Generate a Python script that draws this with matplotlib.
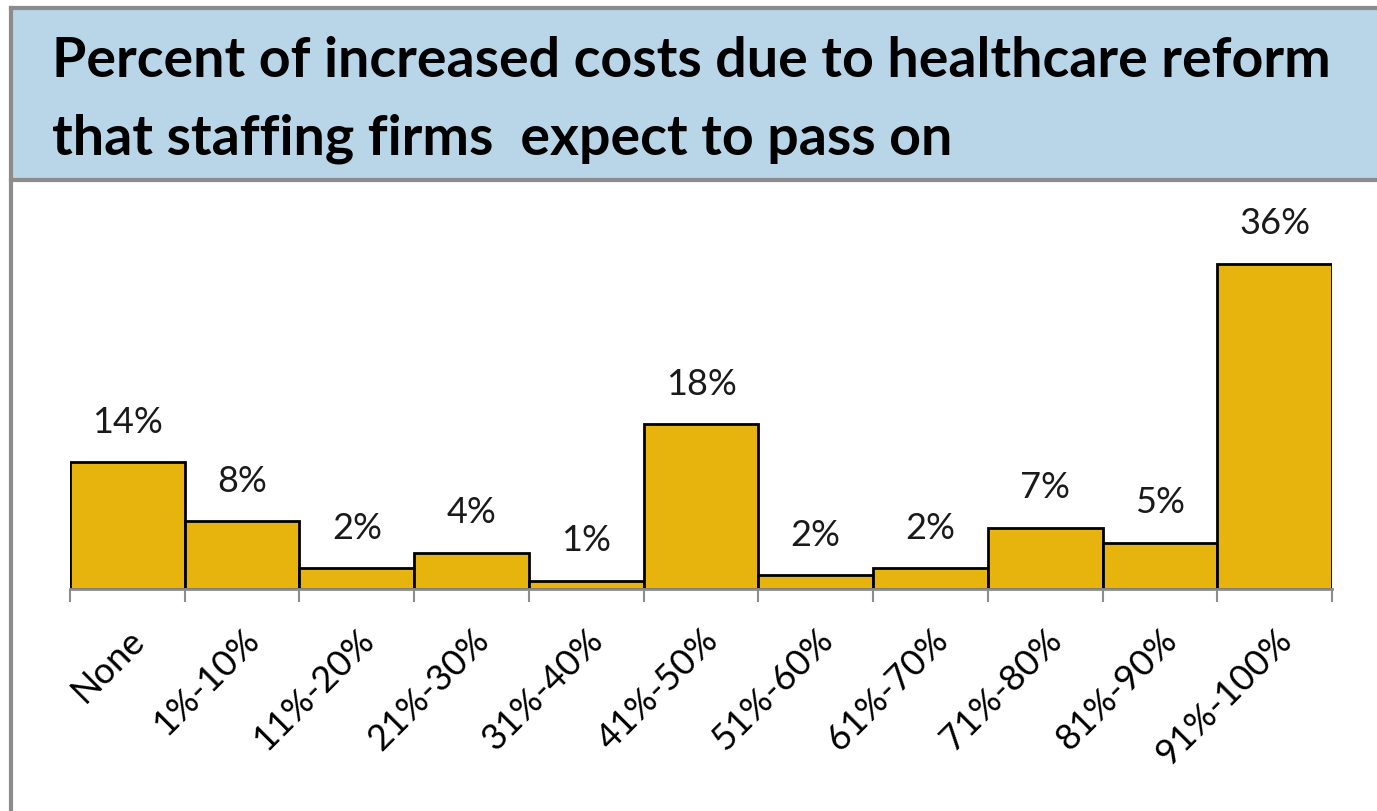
import matplotlib.pyplot as plt
from matplotlib.patches import Rectangle
from matplotlib.lines import Line2D
import numpy as np

categories = ['None', '1%-10%', '11%-20%', '21%-30%', '31%-40%', '41%-50%',
              '51%-60%', '61%-70%', '71%-80%', '81%-90%', '91%-100%']
values = [14.0, 7.5, 2.3, 4.0, 0.9, 18.2, 1.5, 2.3, 6.8, 5.1, 36.0]
value_labels = ['14%', '8%', '2%', '4%', '1%', '18%', '2%', '2%', '7%', '5%', '36%']
title_lines = ['Percent of increased costs due to healthcare reform',
               'that staffing firms  expect to pass on']

plt.rcParams['font.family'] = ['Lato', 'DejaVu Sans']

W, H = 1377, 812
fig = plt.figure(figsize=(W / 100, H / 100), dpi=100)

# title band and frame
fig.patches.append(Rectangle((12 / W, 1 - 181 / H), 1, (181 - 9) / H,
                             transform=fig.transFigure, facecolor='#b9d5e8',
                             edgecolor='none', zorder=0))
gray = '#8c8c8c'
fig.lines.append(Line2D([11 / W, 11 / W], [0, 1 - 9 / H], transform=fig.transFigure,
                        color=gray, lw=3))
fig.lines.append(Line2D([11 / W, 1], [1 - 9 / H, 1 - 9 / H], transform=fig.transFigure,
                        color=gray, lw=3))
fig.lines.append(Line2D([11 / W, 1], [1 - 181 / H, 1 - 181 / H], transform=fig.transFigure,
                        color=gray, lw=3))

fig.text(52 / W, 1 - 77 / H, title_lines[0], fontsize=40, fontweight='bold',
         va='baseline', ha='left')
fig.text(52 / W, 1 - 155 / H, title_lines[1], fontsize=40, fontweight='bold',
         va='baseline', ha='left')

# plot area
x0, x1 = 70, 1332
y_base = 590
px_per_unit = 9.04
ymax = 40
ax = fig.add_axes([x0 / W, 1 - y_base / H, (x1 - x0) / W, ymax * px_per_unit / H])

x = np.arange(len(categories))
ax.bar(x, values, width=1.0, color='#e6b40d', edgecolor='black', linewidth=2)
ax.set_xlim(-0.5, len(categories) - 0.5)
ax.set_ylim(0, ymax)

for xi, v, lab in zip(x, values, value_labels):
    ax.annotate(lab, (xi, v), xytext=(0, 22), textcoords='offset points',
                ha='center', va='baseline', fontsize=26, color='#1a1a1a')

for s in ['top', 'right', 'left']:
    ax.spines[s].set_visible(False)
ax.spines['bottom'].set_color(gray)
ax.spines['bottom'].set_linewidth(2)
ax.set_yticks([])

ax.set_xticks(x)
ax.set_xticklabels(categories, rotation=45, ha='right', rotation_mode='anchor',
                   fontsize=26)
ax.tick_params(axis='x', which='major', length=0, pad=24)
ax.set_xticks(np.arange(len(categories) + 1) - 0.5, minor=True)
ax.tick_params(axis='x', which='minor', length=9, width=1.5, color=gray)

fig.savefig('out.png', dpi=100)
